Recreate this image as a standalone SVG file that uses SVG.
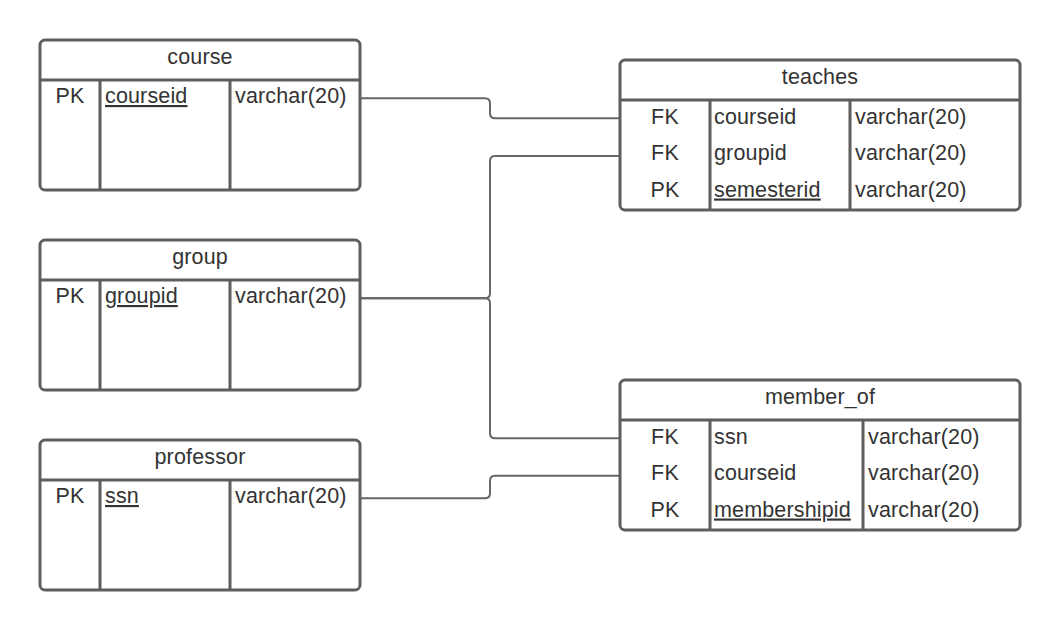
<svg xmlns="http://www.w3.org/2000/svg" width="1060" height="631" viewBox="0 0 1060 631">
<style>
.box{fill:#fff;stroke:#5e5e5e;stroke-width:3}
.div{stroke:#5e5e5e;stroke-width:3;fill:none}
.t{font-family:"Liberation Sans",Arial,sans-serif;font-size:21.5px;letter-spacing:0.15px;fill:#333}
.c{text-anchor:middle}
.u{text-decoration:underline}
.conn{fill:none;stroke:#666;stroke-width:2}
</style>
<rect width="1060" height="631" fill="#fff"/>
<g id="course">
<rect class="box" x="40" y="40" width="320" height="150" rx="5"/>
<path class="div" d="M40 80H360M100 80V190M230 80V190"/>
<text class="t c" x="200" y="64">course</text>
<text class="t c" x="70" y="103">PK</text>
<text class="t u" x="105" y="103">courseid</text>
<text class="t" x="235" y="103">varchar(20)</text>
</g>
<g id="group">
<rect class="box" x="40" y="240" width="320" height="150" rx="5"/>
<path class="div" d="M40 280H360M100 280V390M230 280V390"/>
<text class="t c" x="200" y="264">group</text>
<text class="t c" x="70" y="303">PK</text>
<text class="t u" x="105" y="303">groupid</text>
<text class="t" x="235" y="303">varchar(20)</text>
</g>
<g id="professor">
<rect class="box" x="40" y="440" width="320" height="150" rx="5"/>
<path class="div" d="M40 480H360M100 480V590M230 480V590"/>
<text class="t c" x="200" y="464">professor</text>
<text class="t c" x="70" y="503">PK</text>
<text class="t u" x="105" y="503">ssn</text>
<text class="t" x="235" y="503">varchar(20)</text>
</g>
<g id="teaches">
<rect class="box" x="620" y="60" width="400" height="150" rx="5"/>
<path class="div" d="M620 100H1020M710 100V210M850 100V210"/>
<text class="t c" x="820" y="84">teaches</text>
<text class="t c" x="665" y="123.5">FK</text>
<text class="t" x="714" y="123.5">courseid</text>
<text class="t" x="855" y="123.5">varchar(20)</text>
<text class="t c" x="665" y="160">FK</text>
<text class="t" x="714" y="160">groupid</text>
<text class="t" x="855" y="160">varchar(20)</text>
<text class="t c" x="665" y="196.5">PK</text>
<text class="t u" x="714" y="196.5">semesterid</text>
<text class="t" x="855" y="196.5">varchar(20)</text>
</g>
<g id="member_of">
<rect class="box" x="620" y="380" width="400" height="150" rx="5"/>
<path class="div" d="M620 420H1020M710 420V530M863 420V530"/>
<text class="t c" x="820" y="404">member_of</text>
<text class="t c" x="665" y="443.5">FK</text>
<text class="t" x="714" y="443.5">ssn</text>
<text class="t" x="868" y="443.5">varchar(20)</text>
<text class="t c" x="665" y="480">FK</text>
<text class="t" x="714" y="480">courseid</text>
<text class="t" x="868" y="480">varchar(20)</text>
<text class="t c" x="665" y="516.5">PK</text>
<text class="t u" x="714" y="516.5">membershipid</text>
<text class="t" x="868" y="516.5">varchar(20)</text>
</g>
<g id="connectors">
<path class="conn" d="M361 98.3H485Q490 98.3 490 103.3V113.3Q490 118.3 495 118.3H619"/>
<path class="conn" d="M361 298.3H485Q490 298.3 490 293.3V161Q490 156 495 156H619"/>
<path class="conn" d="M361 298.3H485Q490 298.3 490 303.3V433.3Q490 438.3 495 438.3H619"/>
<path class="conn" d="M361 498.3H485Q490 498.3 490 493.3V480.7Q490 475.7 495 475.7H619"/>
</g>
</svg>
